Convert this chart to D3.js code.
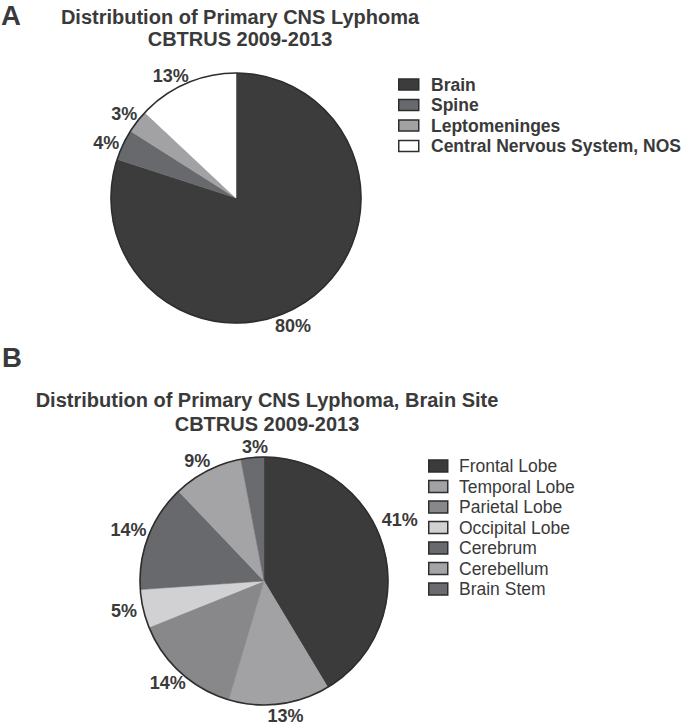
<!DOCTYPE html>
<html>
<head>
<meta charset="utf-8">
<script src="https://cdn.jsdelivr.net/npm/d3@7"></script>
<style>
  html, body { margin: 0; padding: 0; background: #ffffff; }
  svg { display: block; font-family: "Liberation Sans", Arial, Helvetica, sans-serif; }
</style>
</head>
<body>
<svg id="chart" width="688" height="725"></svg>
<script>
// ---------- DATA ----------
const titleA = ["Distribution of Primary CNS Lyphoma", "CBTRUS 2009-2013"];
const categoriesA = ["Brain", "Spine", "Leptomeninges", "Central Nervous System, NOS"];
const valuesA = [80, 4, 3, 13];

const titleB = ["Distribution of Primary CNS Lyphoma, Brain Site", "CBTRUS 2009-2013"];
const categoriesB = ["Frontal Lobe", "Temporal Lobe", "Parietal Lobe", "Occipital Lobe", "Cerebrum", "Cerebellum", "Brain Stem"];
const valuesB = [41.4, 13.2, 14.3, 5.0, 14.0, 9.1, 3.0];

// ---------- STYLE / LAYOUT ----------
const colorsA = ["#3c3c3c", "#68696d", "#a2a2a4", "#ffffff"];
const colorsB = ["#3b3b3b", "#a2a2a4", "#88888b", "#d1d1d3", "#68696d", "#a4a4a6", "#6a6b6f"];
// label placement (angle in degrees clockwise from 12 o'clock, distance from centre)
const labelLayoutA = [[156, 140], [293, 141], [307, 140], [332, 139]];
const labelLayoutB = [[65.6, 149], [170.9, 136], [223.5, 140], [258.2, 143], [290.9, 145], [331.1, 138], [356.2, 135]];

const textColor = "#3a3a3a";
const svg = d3.select("#chart");

function drawPanel(cfg) {
  const g = svg.append("g");
  // panel letter
  g.append("text").attr("x", cfg.letterX).attr("y", cfg.letterY)
    .attr("font-size", 27.5).attr("font-weight", "bold").attr("fill", textColor)
    .text(cfg.letter);
  // title
  cfg.title.forEach((t, i) => {
    g.append("text").attr("x", cfg.titleX).attr("y", cfg.titleY[i])
      .attr("text-anchor", "middle").attr("font-size", 20).attr("font-weight", "bold")
      .attr("fill", textColor).text(t);
  });
  // pie
  const pie = d3.pie().sort(null).value(d => d.v);
  const data = cfg.values.map((v, i) => ({v, i}));
  const arcs = pie(data);
  const arc = d3.arc().innerRadius(0).outerRadius(cfg.r);
  const pg = g.append("g").attr("transform", `translate(${cfg.cx},${cfg.cy})`);
  pg.selectAll("path.slice").data(arcs).join("path")
    .attr("class", "slice")
    .attr("d", arc)
    .attr("fill", d => cfg.colors[d.data.i])
    .attr("stroke", d => cfg.colors[d.data.i])
    .attr("stroke-width", 0.5);
  pg.append("circle").attr("r", cfg.r).attr("fill", "none")
    .attr("stroke", "#2e2e2e").attr("stroke-width", 1.6);
  // labels
  const total = d3.sum(cfg.values);
  pg.selectAll("text.lbl").data(arcs).join("text")
    .attr("class", "lbl")
    .attr("x", d => { const [a, rr] = cfg.labelLayout[d.data.i]; return rr * Math.sin(a * Math.PI / 180); })
    .attr("y", d => { const [a, rr] = cfg.labelLayout[d.data.i]; return -rr * Math.cos(a * Math.PI / 180); })
    .attr("dy", "0.36em")
    .attr("text-anchor", "middle")
    .attr("font-size", 18).attr("font-weight", "bold").attr("fill", textColor)
    .text(d => Math.round(d.data.v / total * 100) + "%");
  // legend
  const lg = g.append("g");
  const rows = lg.selectAll("g").data(cfg.categories).join("g")
    .attr("transform", (d, i) => `translate(${cfg.legX},${cfg.legY + i * cfg.legStep})`);
  rows.append("rect")
    .attr("x", 0.75).attr("y", -cfg.boxH / 2)
    .attr("width", cfg.boxW).attr("height", cfg.boxH)
    .attr("fill", (d, i) => cfg.colors[i])
    .attr("stroke", "#2e2e2e").attr("stroke-width", 1.5);
  rows.append("text")
    .attr("x", cfg.legTextX).attr("y", 0).attr("dy", "0.36em")
    .attr("font-size", 17.5).attr("font-weight", cfg.legBold ? "bold" : "normal")
    .attr("fill", textColor).text(d => d);
}

drawPanel({
  letter: "A", letterX: 1, letterY: 25,
  title: titleA, titleX: 240, titleY: [24, 46],
  values: valuesA, categories: categoriesA, colors: colorsA, labelLayout: labelLayoutA,
  cx: 236, cy: 198, r: 125,
  legX: 398, legY: 84.5, legStep: 20.5, boxW: 20, boxH: 11, legTextX: 33, legBold: true
});

drawPanel({
  letter: "B", letterX: 2, letterY: 367,
  title: titleB, titleX: 267, titleY: [407, 431],
  values: valuesB, categories: categoriesB, colors: colorsB, labelLayout: labelLayoutB,
  cx: 264, cy: 581, r: 124,
  legX: 428, legY: 466, legStep: 20.5, boxW: 19, boxH: 12, legTextX: 31, legBold: false
});
</script>
</body>
</html>
